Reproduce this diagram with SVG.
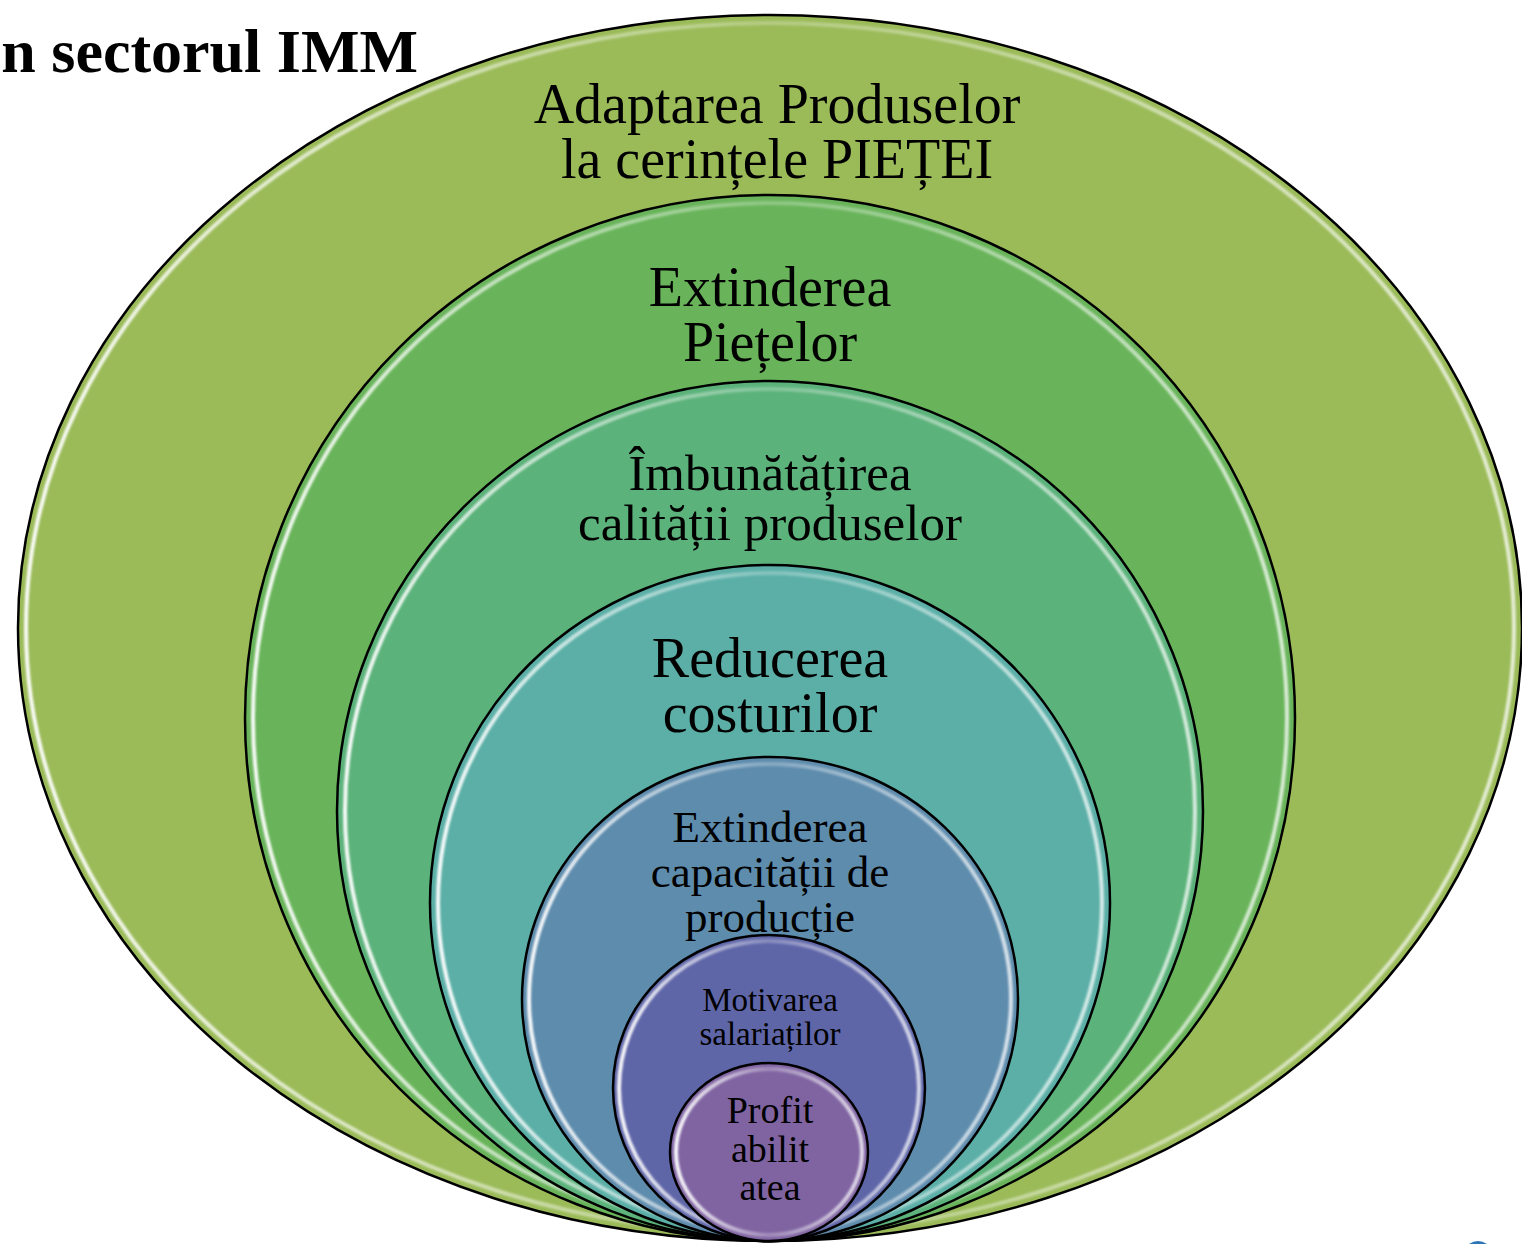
<svg xmlns="http://www.w3.org/2000/svg" width="1522" height="1244" viewBox="0 0 1522 1244">
<style>
.ring{stroke:#000;stroke-width:2.5}
.hl{fill:none;stroke:url(#hl);stroke-width:4;filter:url(#soft)}
.t{font-family:"Liberation Serif","Times New Roman",serif;fill:#000;text-anchor:middle}
</style>
<defs>
<linearGradient id="hl" x1="0" y1="0" x2="1" y2="0">
<stop offset="0" stop-color="#fff" stop-opacity="0.95"/>
<stop offset="0.5" stop-color="#fff" stop-opacity="0.25"/>
<stop offset="1" stop-color="#fff" stop-opacity="0.75"/>
</linearGradient>
<filter id="soft" x="-5%" y="-5%" width="110%" height="110%"><feGaussianBlur stdDeviation="1"/></filter>
</defs>
<rect width="1522" height="1244" fill="#fff"/>
<text x="418" y="72" class="t" style="text-anchor:end;font-weight:bold;font-size:62px">n sectorul IMM</text>
<g id="n1">
<ellipse class="ring" cx="770" cy="628" rx="752" ry="613" fill="#9BBB59"/>
<ellipse class="hl" cx="770" cy="628" rx="744" ry="605"/>
<text class="t" x="777" y="123" style="font-size:56px">Adaptarea Produselor</text>
<text class="t" x="777" y="178" style="font-size:56px">la cerințele PIEȚEI</text>
</g>
<g id="n2">
<ellipse class="ring" cx="770" cy="718" rx="525" ry="523" fill="#69B45A"/>
<ellipse class="hl" cx="770" cy="718" rx="517" ry="515"/>
<text class="t" x="770" y="306" style="font-size:56px">Extinderea</text>
<text class="t" x="770" y="361" style="font-size:56px">Piețelor</text>
</g>
<g id="n3">
<ellipse class="ring" cx="770" cy="811" rx="433" ry="430" fill="#5BB27A"/>
<ellipse class="hl" cx="770" cy="811" rx="425" ry="422"/>
<text class="t" x="770" y="490" style="font-size:51px">Îmbunătățirea</text>
<text class="t" x="770" y="540" style="font-size:51px">calității produselor</text>
</g>
<g id="n4">
<ellipse class="ring" cx="770" cy="903" rx="340" ry="338" fill="#5BAFA7"/>
<ellipse class="hl" cx="770" cy="903" rx="332" ry="330"/>
<text class="t" x="770" y="677" style="font-size:56px">Reducerea</text>
<text class="t" x="770" y="732" style="font-size:56px">costurilor</text>
</g>
<g id="n5">
<ellipse class="ring" cx="770" cy="999" rx="248" ry="242" fill="#5E8CAD"/>
<ellipse class="hl" cx="770" cy="999" rx="241" ry="235"/>
<text class="t" x="770" y="842" style="font-size:45px">Extinderea</text>
<text class="t" x="770" y="887" style="font-size:45px">capacității de</text>
<text class="t" x="770" y="932" style="font-size:45px">producție</text>
</g>
<g id="n6">
<ellipse class="ring" cx="769" cy="1088" rx="156" ry="153" fill="#5F66A8"/>
<ellipse class="hl" cx="769" cy="1088" rx="150" ry="147"/>
<text class="t" x="770" y="1011" style="font-size:33px">Motivarea</text>
<text class="t" x="770" y="1045" style="font-size:33px">salariaților</text>
</g>
<g id="n7">
<ellipse class="ring" cx="769" cy="1152" rx="99" ry="89" fill="#8064A2"/>
<ellipse class="hl" cx="769" cy="1152" rx="93" ry="83"/>
<text class="t" x="770" y="1123" style="font-size:38px">Profit</text>
<text class="t" x="770" y="1162" style="font-size:38px">abilit</text>
<text class="t" x="770" y="1200" style="font-size:38px">atea</text>
</g>
<path d="M1469,1244 Q1478,1238 1487,1244 Z" fill="#2E75B6"/>
</svg>
